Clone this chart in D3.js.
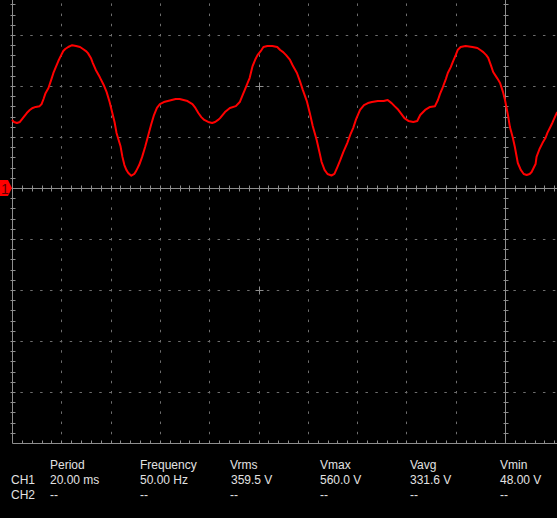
<!DOCTYPE html>
<html>
<head>
<meta charset="utf-8">
<script src="https://cdn.jsdelivr.net/npm/d3@7"></script>
<style>
  html, body { margin: 0; padding: 0; background: #000; }
  svg { display: block; }
</style>
</head>
<body>
<svg id="chart" width="557" height="518"></svg>
<script>
// ---- Data (time in ms, voltage in V) ----
const timeMs = [
  0.0,0.2,0.5,0.8,1.1,1.5,1.8,2.1,2.4,2.8,3.0,3.2,3.4,3.7,4.0,4.2,4.4,4.7,4.9,5.2,5.4,5.7,6.1,6.5,6.9,7.2,7.5,7.7,8.0,8.2,8.5,8.9,9.3,9.6,9.9,10.1,10.4,10.6,11.0,11.2,11.4,11.6,11.8,12.1,12.4,12.6,12.9,13.2,13.5,13.8,14.1,14.4,14.7,15.0,15.4,15.8,16.2,16.6,17.0,17.4,17.8,18.3,18.6,18.9,19.2,19.5,19.9,20.3,20.6,
  20.9,21.1,21.6,22.1,22.7,23.1,23.4,23.6,23.9,24.1,24.4,24.7,24.9,25.3,25.5,25.9,26.4,26.9,27.2,27.5,27.8,28.2,28.5,28.9,29.2,29.5,29.9,30.2,30.5,30.9,31.2,31.4,31.7,32.0,32.4,32.7,33.0,33.3,33.6,34.0,34.3,34.6,34.9,35.3,35.7,36.1,36.5,37.1,37.7,38.1,38.5,38.8,39.1,39.5,39.8,40.2,40.7,41.1,
  41.4,41.9,42.4,42.9,43.2,43.4,43.7,44.0,44.2,44.5,44.7,45.0,45.2,45.5,46.0,46.7,47.2,47.5,47.8,48.1,48.3,48.6,48.8,49.2,49.5,49.8,50.0,50.3,50.5,50.8,51.0,51.3,51.6,51.9,52.2,52.5,52.7,53.1,53.2,53.5,53.8,54.1,54.3,54.6,54.8,55.1,55.3
];
const voltsV = [
  267,259,255,259,274,294,306,314,318,321,329,349,372,392,427,451,470,498,514,537,545,553,560,557,553,545,537,529,510,490,463,435,404,376,337,306,259,216,165,122,90,71,59,48,55,67,90,122,161,204,247,286,314,329,337,341,345,349,349,345,341,329,314,294,278,267,259,255,259,
  267,274,298,314,321,337,365,384,412,431,478,506,521,541,553,557,557,553,541,533,521,502,478,451,419,384,341,294,243,188,137,102,71,55,49,55,82,110,141,176,208,235,270,306,325,333,337,341,341,345,333,321,310,290,274,263,259,263,
  286,306,318,321,345,368,396,427,451,474,494,521,541,553,557,553,549,541,533,521,510,478,455,431,412,376,345,286,239,196,161,98,71,55,51,55,63,94,122,153,176,196,216,239,255,282,298
];

// measurement table
const measNames  = ["Period", "Frequency", "Vrms", "Vmax", "Vavg", "Vmin"];
const ch1Values  = ["20.00 ms", "50.00 Hz", "359.5 V", "560.0 V", "331.6 V", "48.00 V"];
const ch2Values  = ["--", "--", "--", "--", "--", "--"];
const channels   = ["CH1", "CH2"];

// grid definition (scope divisions)
const timeDivMs  = 5;     // 5 ms/div
const voltDivV   = 200;   // 200 V/div
const xMajor     = [0, 5, 10, 15, 20, 25, 30, 35, 40, 45, 50];
const yMajor     = [600, 400, 200, 0, -200, -400, -600, -800, -1000];

// ---- Drawing ----
const W = 557, H = 518;
const svg = d3.select("#chart");
svg.append("rect").attr("width", W).attr("height", H).attr("fill", "#000");

const x = d3.scaleLinear().domain([0, 50]).range([12, 505]);
const y = d3.scaleLinear().domain([0, 200]).range([188, 137]);

const gridTop = 0, gridBottom = y(-1000), gridLeft = x(0), gridRight = W;
const solidCol = "#8e8e8e", dotCol = "#6e6e6e";

const g = svg.append("g");

// minor positions
const xMinor = d3.range(-0.0, 56.5, 1);           // every 1 ms
const yMinor = d3.range(-1000, 760, 40);          // every 40 V

// dotted vertical grid lines
xMajor.filter(t => t !== 0 && t !== 50).forEach(t => {
  const xp = Math.round(x(t)) + 0.5;
  g.selectAll(null).data(yMinor.filter(v => y(v) > gridTop - 2 && y(v) < gridBottom - 2))
    .enter().append("line")
    .attr("x1", xp).attr("x2", xp)
    .attr("y1", v => y(v) - 1).attr("y2", v => y(v) + 1.5)
    .attr("stroke", dotCol).attr("stroke-width", 1);
});
// dotted horizontal grid lines
yMajor.filter(v => v !== 0 && v !== -1000).forEach(v => {
  const yp = Math.round(y(v)) + 0.5;
  g.selectAll(null).data(xMinor.filter(t => x(t) > gridLeft + 2 && x(t) < W))
    .enter().append("line")
    .attr("y1", yp).attr("y2", yp)
    .attr("x1", t => x(t) - 1.5).attr("x2", t => x(t) + 1)
    .attr("stroke", dotCol).attr("stroke-width", 1);
});

// crosshair marks
[[25, 400], [25, -400]].forEach(([t, v]) => {
  const xp = Math.round(x(t)) + 0.5, yp = Math.round(y(v)) + 0.5;
  g.append("line").attr("x1", xp - 4).attr("x2", xp + 4).attr("y1", yp).attr("y2", yp).attr("stroke", solidCol);
  g.append("line").attr("x1", xp).attr("x2", xp).attr("y1", yp - 4).attr("y2", yp + 4).attr("stroke", solidCol);
});

// solid lines: left border, right axis, zero axis, bottom border
const lx = Math.round(x(0)) + 0.5, rx = Math.round(x(50)) + 0.5;
const zy = Math.round(y(0)) + 0.5, by = Math.round(y(-1000)) + 0.5;
[[lx, gridTop, lx, by], [rx, gridTop, rx, by]].forEach(d =>
  g.append("line").attr("x1", d[0]).attr("y1", d[1]).attr("x2", d[2]).attr("y2", d[3]).attr("stroke", solidCol));
[[lx, zy, W, zy], [lx, by, W, by]].forEach(d =>
  g.append("line").attr("x1", d[0]).attr("y1", d[1]).attr("x2", d[2]).attr("y2", d[3]).attr("stroke", solidCol));

// ticks on left border & right axis
const yTickVals = yMinor.filter(v => y(v) >= 0 && y(v) <= gridBottom - 3);
[lx, rx].forEach(xp => {
  g.selectAll(null).data(yTickVals).enter().append("line")
    .attr("x1", xp - 2).attr("x2", xp + 3)
    .attr("y1", v => Math.round(y(v)) + 0.5).attr("y2", v => Math.round(y(v)) + 0.5)
    .attr("stroke", solidCol);
});
// ticks on zero axis
const xTickVals = xMinor.filter(t => x(t) > gridLeft + 3 && x(t) < W);
g.selectAll(null).data(xTickVals).enter().append("line")
  .attr("x1", t => Math.round(x(t)) + 0.5).attr("x2", t => Math.round(x(t)) + 0.5)
  .attr("y1", zy - 3).attr("y2", zy + 3).attr("stroke", solidCol);
// ticks on bottom border
g.selectAll(null).data(xTickVals).enter().append("line")
  .attr("x1", t => Math.round(x(t)) + 0.5).attr("x2", t => Math.round(x(t)) + 0.5)
  .attr("y1", by - 3).attr("y2", by).attr("stroke", solidCol);

// waveform
const pts = timeMs.map((t, i) => [t, voltsV[i]]);
svg.append("path")
  .datum(pts)
  .attr("d", d3.line().x(d => x(d[0])).y(d => y(d[1])))
  .attr("fill", "none")
  .attr("stroke", "#ff0000")
  .attr("stroke-width", 2)
  .attr("stroke-linejoin", "round");

// channel 1 ground marker
const my = y(0);
svg.append("path")
  .attr("d", `M0,${my - 8}L8,${my - 8}L12,${my}L8,${my + 8}L0,${my + 8}Z`)
  .attr("fill", "#ff0000");
svg.append("text")
  .attr("x", 5).attr("y", my + 5.5)
  .attr("text-anchor", "middle")
  .attr("font-family", "Liberation Sans, Arial, sans-serif")
  .attr("font-size", 14)
  .attr("fill", "#5a0000")
  .text("1");

// measurement text
const tf = "Liberation Sans, Arial, sans-serif";
const txtCol = "#e2e2e2";
const colX = [50, 140, 230, 320, 410, 500];
const tg = svg.append("g").attr("font-family", tf).attr("font-size", 12).attr("fill", txtCol);
tg.selectAll(".hdr").data(measNames).enter().append("text")
  .attr("x", (d, i) => colX[i]).attr("y", 469).text(d => d);
tg.selectAll(".ch").data(channels).enter().append("text")
  .attr("x", 11).attr("y", (d, i) => 484 + i * 15).text(d => d);
tg.selectAll(".v1").data(ch1Values).enter().append("text")
  .attr("x", (d, i) => colX[i] + (i === 2 ? 1 : 0)).attr("y", 484).text(d => d);
tg.selectAll(".v2").data(ch2Values).enter().append("text")
  .attr("x", (d, i) => colX[i]).attr("y", 499).text(d => d);
</script>
</body>
</html>
